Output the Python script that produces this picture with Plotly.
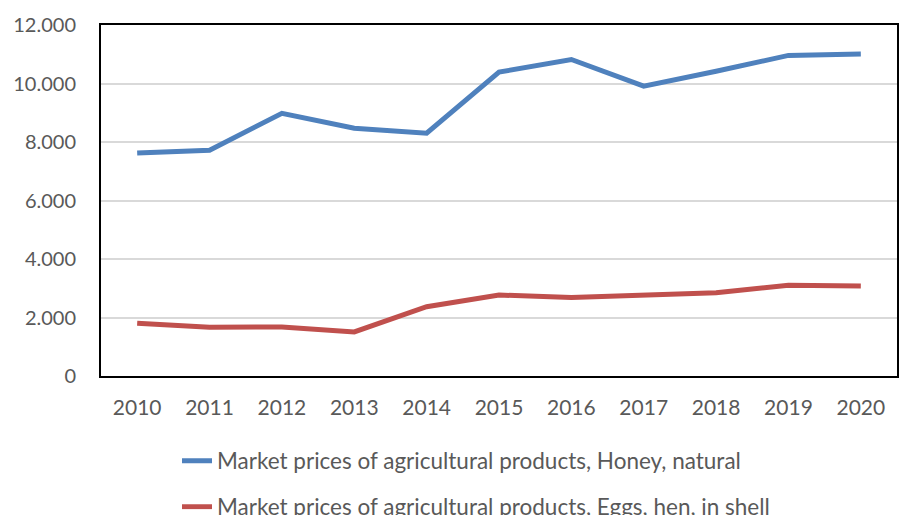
import plotly.graph_objects as go

# Market prices, 2010-2020
years = ["2010", "2011", "2012", "2013", "2014", "2015", "2016", "2017", "2018", "2019", "2020"]
honey = [7620, 7720, 8980, 8470, 8300, 10390, 10820, 9910, 10420, 10960, 11010]
eggs = [1800, 1665, 1675, 1505, 2370, 2770, 2680, 2755, 2850, 3100, 3080]

honey_name = "Market prices of agricultural products, Honey, natural"
eggs_name = "Market prices of agricultural products, Eggs, hen, in shell"

FONT = "Lato"
TEXT = "#595959"

fig = go.Figure()
fig.add_trace(go.Scatter(x=years, y=honey, mode="lines", name=honey_name, showlegend=True,
                         line=dict(color="#4F81BD", width=5), legend="legend"))
fig.add_trace(go.Scatter(x=years, y=eggs, mode="lines", name=eggs_name, showlegend=True,
                         line=dict(color="#C0504D", width=5), legend="legend2"))

legend_style = dict(
    xanchor="left", yanchor="middle",
    font=dict(family=FONT, size=22.5, color=TEXT), bgcolor="rgba(0,0,0,0)",
    itemwidth=30,
)

# plot area spans 25..376 px vertically (height 351), 101..897 horizontally
def paper_y(px):
    return (376 - px) / 351

def paper_x(px):
    return (px - 101) / 796

fig.update_layout(
    width=899, height=515,
    margin=dict(l=101, r=2, t=25, b=139, autoexpand=False),
    paper_bgcolor="white", plot_bgcolor="white",
    separators=",.",
    showlegend=True,
    font=dict(family=FONT, size=20, color=TEXT),
    legend=dict(x=paper_x(177), y=paper_y(461), **legend_style),
    legend2=dict(x=paper_x(177), y=paper_y(507), **legend_style),
    xaxis=dict(
        type="category", range=[-0.5, 10.5],
        showgrid=False, showline=True, mirror=True,
        linecolor="#000000", linewidth=2,
        ticks="", ticklabelstandoff=12, tickangle=0,
        tickfont=dict(family=FONT, size=21, color=TEXT),
    ),
    yaxis=dict(
        range=[0, 12000], tickvals=list(range(0, 12001, 2000)),
        tickformat=",d",
        showgrid=True, gridcolor="#D9D9D9", gridwidth=1.5,
        showline=True, mirror=True, linecolor="#000000", linewidth=2,
        zeroline=False, ticks="", ticklabelstandoff=19,
        tickfont=dict(family=FONT, size=20, color=TEXT),
    ),
)

fig.write_html("out.html")
